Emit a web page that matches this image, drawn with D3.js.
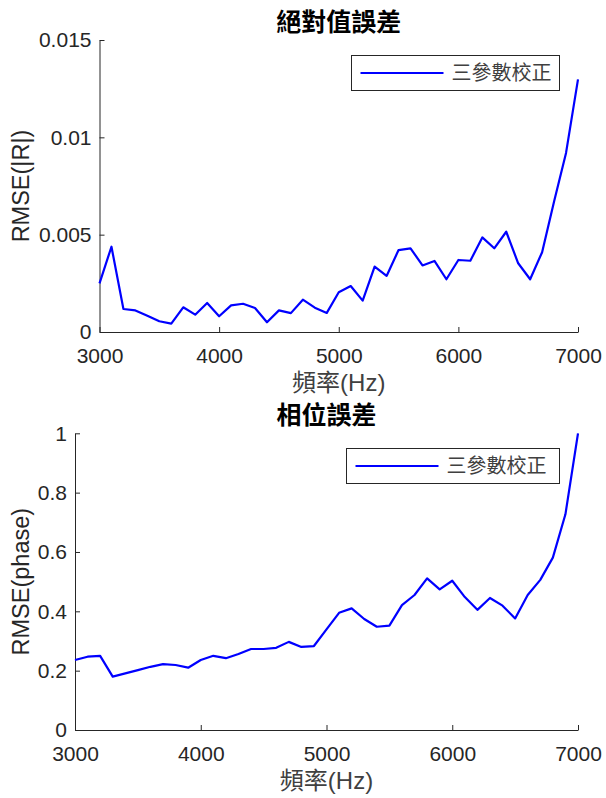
<!DOCTYPE html>
<html>
<head>
<meta charset="utf-8">
<script src="https://cdn.jsdelivr.net/npm/d3@7"></script>
<style>
  html, body { margin: 0; padding: 0; background: #fff; }
  svg { display: block; }
  .tick text { font-family: "Liberation Sans", Arial, sans-serif; font-size: 21px; fill: #262626; }
  .cjk { font-family: "Noto Sans CJK TC", "Noto Sans CJK SC", sans-serif; }
</style>
</head>
<body>
<div id="chart"></div>
<script>
// frequency (Hz)
const freqs = [3000, 3100, 3200, 3300, 3400, 3500, 3600, 3700, 3800, 3900,
  4000, 4100, 4200, 4300, 4400, 4500, 4600, 4700, 4800, 4900,
  5000, 5100, 5200, 5300, 5400, 5500, 5600, 5700, 5800, 5900,
  6000, 6100, 6200, 6300, 6400, 6500, 6600, 6700, 6800, 6900, 7000]

// RMSE(|R|)
const absErr = [0.00250, 0.00438, 0.00118, 0.00111, 0.00084, 0.00055, 0.00043, 0.00127, 0.00089, 0.00149,
  0.00081, 0.00137, 0.00145, 0.00123, 0.00050, 0.00111, 0.00097, 0.00166, 0.00125, 0.00098,
  0.00204, 0.00236, 0.00161, 0.00336, 0.00288, 0.00421, 0.00430, 0.00342, 0.00365, 0.00271,
  0.00370, 0.00366, 0.00486, 0.00430, 0.00515, 0.00353, 0.00271, 0.00410, 0.00670, 0.00920, 0.01298]

// RMSE(phase)
const phaseErr = [0.236, 0.247, 0.250, 0.180, 0.191, 0.202, 0.213, 0.222, 0.219, 0.210,
  0.236, 0.250, 0.242, 0.256, 0.273, 0.273, 0.277, 0.297, 0.280, 0.283,
  0.339, 0.395, 0.410, 0.374, 0.348, 0.352, 0.421, 0.455, 0.511, 0.474,
  0.503, 0.448, 0.405, 0.445, 0.419, 0.376, 0.455, 0.506, 0.581, 0.727, 1.000]

const xTicks = [3000, 4000, 5000, 6000, 7000]
const absTicks = [0, 0.005, 0.01, 0.015]
const phaseTicks = [0, 0.2, 0.4, 0.6, 0.8, 1]
const legendLabel = '三參數校正'

const W = 606, H = 798

const svg = d3.select('#chart')
  .append('svg')
  .attr('width', W)
  .attr('height', H)

const drawPanel = (opts) => {
  const { box, values, yDomain, yTicks, title, yLabel, legendBox } = opts

  const x = d3.scaleLinear().domain([3000, 7000]).range([box.left, box.right])
  const y = d3.scaleLinear().domain(yDomain).range([box.bottom, box.top])

  const g = svg.append('g')

  // axes, ticks point inward like MATLAB
  const xAxis = d3.axisBottom(x)
    .tickValues(xTicks)
    .tickFormat(d3.format('d'))
    .tickSizeInner(-5)
    .tickSizeOuter(0)
    .tickPadding(12)

  const yAxis = d3.axisLeft(y)
    .tickValues(yTicks)
    .tickFormat(d => String(d))
    .tickSizeInner(-5)
    .tickSizeOuter(0)
    .tickPadding(8)

  const gx = g.append('g')
    .attr('transform', 'translate(0,' + box.bottom + ')')
    .call(xAxis)
  gx.selectAll('text').attr('dy', '0.9em')

  g.append('g')
    .attr('transform', 'translate(' + box.left + ',0)')
    .call(yAxis)

  g.selectAll('.domain').attr('stroke', '#262626')
  g.selectAll('.tick line').attr('stroke', '#262626')

  // data line
  const line = d3.line()
    .x((d, i) => x(freqs[i]))
    .y(d => y(d))

  g.append('path')
    .datum(values)
    .attr('d', line)
    .attr('fill', 'none')
    .attr('stroke', '#0000ff')
    .attr('stroke-width', 2.2)
    .attr('stroke-linejoin', 'round')

  // title
  g.append('text')
    .attr('class', 'cjk')
    .attr('x', (box.left + box.right) / 2)
    .attr('y', box.top - 18)
    .attr('dy', '0.35em')
    .attr('text-anchor', 'middle')
    .attr('font-size', 25)
    .attr('font-weight', 'bold')
    .attr('fill', '#000')
    .text(title)

  // x label
  const xl = g.append('text')
    .attr('x', (box.left + box.right) / 2)
    .attr('y', box.bottom + 51)
    .attr('dy', '0.35em')
    .attr('text-anchor', 'middle')
    .attr('font-size', 24)
    .attr('fill', '#404040')
  xl.append('tspan').attr('class', 'cjk').text('頻率')
  xl.append('tspan')
    .attr('font-family', '"Liberation Sans", Arial, sans-serif')
    .text('(Hz)')

  // y label
  g.append('text')
    .attr('transform', 'translate(21,' + (box.top + box.bottom) / 2 + ') rotate(-90)')
    .attr('dy', '0.35em')
    .attr('text-anchor', 'middle')
    .attr('font-family', '"Liberation Sans", Arial, sans-serif')
    .attr('font-size', 23.5)
    .attr('fill', '#262626')
    .text(yLabel)

  // legend
  const lg = g.append('g')
  lg.append('rect')
    .attr('x', legendBox.x)
    .attr('y', legendBox.y)
    .attr('width', legendBox.w)
    .attr('height', legendBox.h)
    .attr('fill', '#fff')
    .attr('stroke', '#262626')
    .attr('stroke-width', 1)

  const ly = legendBox.y + legendBox.h / 2
  lg.append('line')
    .attr('x1', legendBox.x + 9)
    .attr('x2', legendBox.x + 92)
    .attr('y1', ly)
    .attr('y2', ly)
    .attr('stroke', '#0000ff')
    .attr('stroke-width', 2.2)

  lg.append('text')
    .attr('class', 'cjk')
    .attr('x', legendBox.x + 100)
    .attr('y', ly)
    .attr('dy', '0.35em')
    .attr('font-size', 20)
    .attr('fill', '#404040')
    .text(legendLabel)
}

drawPanel({
  box: { left: 99.5, right: 578, top: 40, bottom: 332 },
  values: absErr,
  yDomain: [0, 0.015],
  yTicks: absTicks,
  title: '絕對值誤差',
  yLabel: 'RMSE(|R|)',
  legendBox: { x: 351.5, y: 55.5, w: 208, h: 35 }
})

drawPanel({
  box: { left: 75, right: 578, top: 433.3, bottom: 730 },
  values: phaseErr,
  yDomain: [0, 1],
  yTicks: phaseTicks,
  title: '相位誤差',
  yLabel: 'RMSE(phase)',
  legendBox: { x: 346.5, y: 448.5, w: 213, h: 35 }
})
</script>
</body>
</html>
